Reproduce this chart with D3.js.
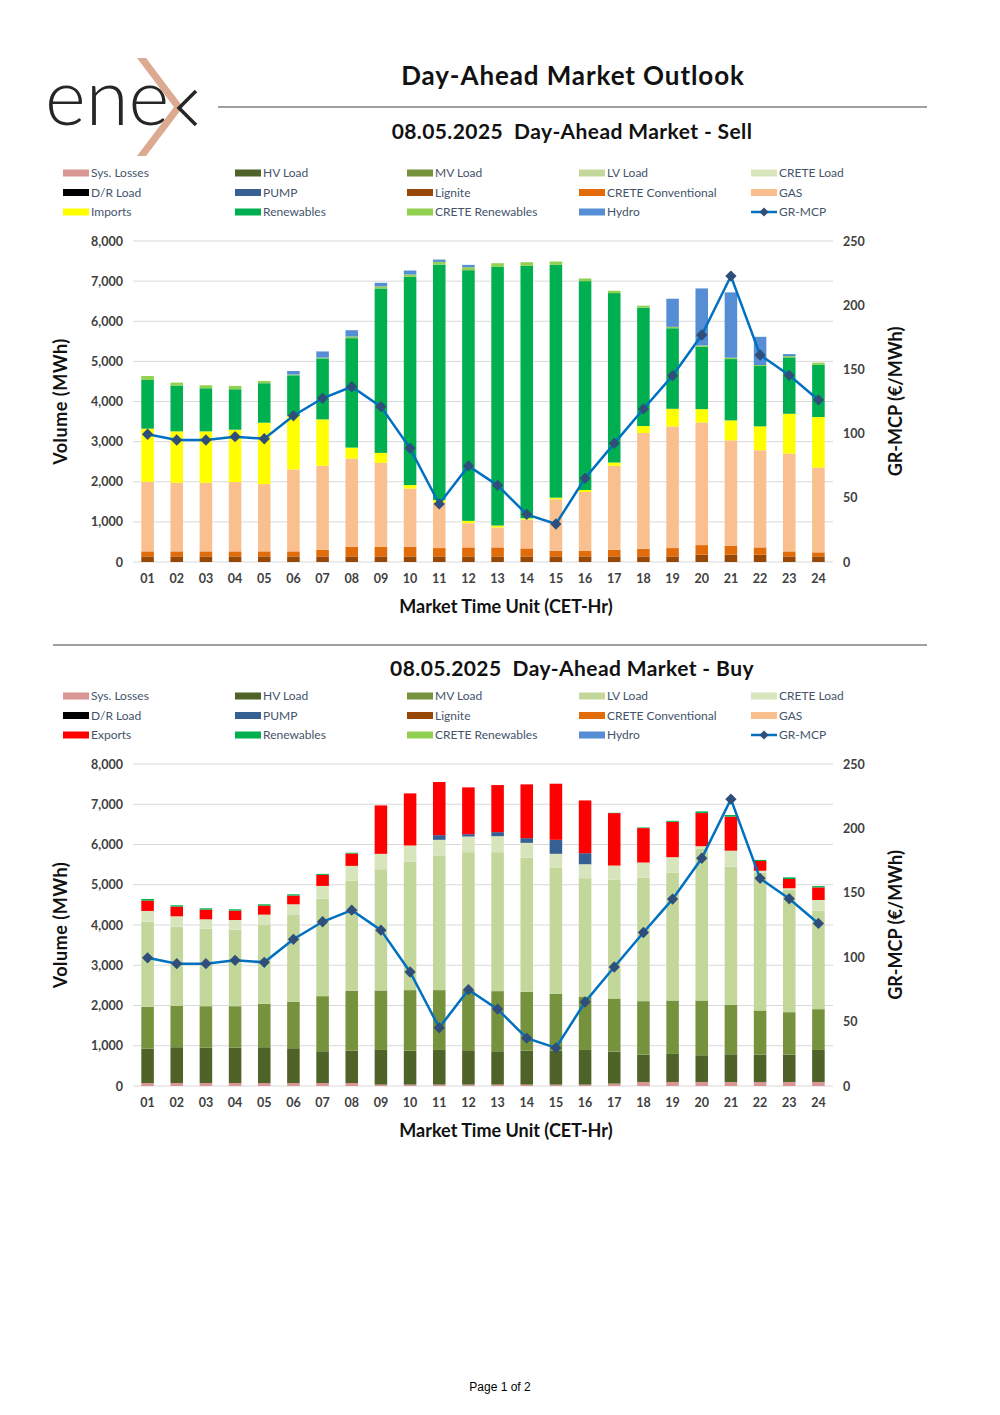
<!DOCTYPE html>
<html>
<head>
<meta charset="utf-8">
<script src="https://cdn.jsdelivr.net/npm/d3@7"></script>
<style>
  body { margin: 0; background: #fff; }
  text { font-family: "Lato", "DejaVu Sans", sans-serif; }
</style>
</head>
<body>
<div id="page"></div>
<script>
// market time units
var hours = ["01","02","03","04","05","06","07","08","09","10","11","12",
             "13","14","15","16","17","18","19","20","21","22","23","24"];

// GR-MCP price (EUR/MWh)
var price = [99.5, 95, 95, 97.6, 96, 113.9, 127.5, 136.5, 121, 88.5, 45.2, 74.8,
             59.7, 37.1, 29.6, 65.2, 92.4, 119.2, 145.1, 176.8, 222.7, 161.2, 145.4, 126.2];

// Sell side (MWh)
var sellLignite    = [140,140,140,140,140,140,140,140,140,140,140,140,140,140,140,140,140,140,140,182,182,182,140,140];
var sellCreteConv  = [125,125,125,125,125,125,165,240,240,240,207,224,224,199,141,141,165,190,207,239,223,182,124,100];
var sellGas        = [1735,1710,1710,1727,1677,2041,2092,2199,2091,1450,1132,603,496,719,1281,1463,2092,2885,3033,3058,2628,2421,2438,2115];
var sellImports    = [1322,1281,1281,1305,1529,1330,1157,272,248,87,66,58,49,33,41,49,82,173,438,331,496,595,992,1257];
var sellRenewables = [1215,1141,1074,1009,984,1017,1520,2728,4099,5190,5868,6248,6446,6289,5802,5207,4223,2951,2008,1554,1529,1504,1405,1305];
var sellCreteRen   = [99,74,75,82,57,20,20,40,50,58,66,74,91,91,83,66,58,49,34,33,33,25,33,50];
var sellHydro      = [0,0,0,0,0,87,154,158,91,99,58,58,0,0,0,0,0,0,702,1421,1628,703,50,0];

// Buy side (MWh)
var buySysLosses   = [75,75,75,75,75,75,75,75,35,35,35,35,35,35,35,35,60,100,100,100,100,100,100,100];
var buyHV          = [854,888,879,879,888,863,788,805,861,845,861,853,828,845,845,861,795,680,697,663,688,680,680,796];
var buyMV          = [1038,1029,1029,1029,1078,1153,1369,1485,1477,1502,1486,1494,1494,1460,1410,1328,1319,1328,1327,1361,1229,1096,1054,1013];
var buyLV          = [2116,1967,1926,1901,1959,2158,2424,2739,3013,3195,3336,3427,3452,3336,3129,2938,2955,3070,3179,3776,3431,3424,3046,2448];
var buyCreteLoad   = [266,257,232,240,257,266,315,365,382,398,398,390,398,365,349,348,348,374,382,58,398,48,33,265];
var buyPump        = [0,0,0,0,0,0,0,0,0,0,116,58,100,117,348,274,0,0,0,0,0,0,0,0];
var buyExports     = [257,240,241,233,224,215,274,307,1203,1295,1320,1162,1170,1336,1394,1311,1303,855,879,823,846,242,230,312];
var buyRenewables  = [41,34,33,33,34,33,25,20,0,0,0,0,0,0,0,0,8,16,25,42,41,27,41,33];

var volTicks = [0,1000,2000,3000,4000,5000,6000,7000,8000];
var priceTicks = [0,50,100,150,200,250];

var legendNames = ["Sys. Losses","HV Load","MV Load","LV Load","CRETE Load",
                   "D/R Load","PUMP","Lignite","CRETE Conventional","GAS",
                   "Imports","Renewables","CRETE Renewables","Hydro","GR-MCP"];
var legendColors = ["#da9694","#4f6228","#76923c","#c4d79b","#d8e4bc",
                    "#000000","#366092","#974706","#e26b0a","#fabf8f",
                    "#ffff00","#00b050","#92d050","#558ed5","#0070c0"];

var svg = d3.select("#page").append("svg")
    .attr("width", 1000)
    .attr("height", 1415);

// ---- header / logo ----
svg.append("text")
    .attr("x", 45).attr("y", 125)
    .style("font-family", "Lato, sans-serif")
    .style("font-weight", 300)
    .style("font-size", "78px")
    .attr("fill", "#262626")
    .text("ene");
svg.append("path")
    .attr("d", "M137,58 L146,58 L183,107 L146,156 L137,156 L174,107 Z")
    .attr("fill", "#dcaa90");
svg.append("path")
    .attr("d", "M196,91 L179,108 L196,125")
    .attr("fill", "none")
    .attr("stroke", "#262626")
    .attr("stroke-width", 3.5);

svg.append("text")
    .attr("x", 573).attr("y", 85)
    .attr("text-anchor", "middle")
    .style("font-weight", "bold").style("font-size", "26px")
    .style("letter-spacing", "0.9px")
    .attr("fill", "#111")
    .text("Day-Ahead Market Outlook");
svg.append("line")
    .attr("x1", 218).attr("x2", 927).attr("y1", 107).attr("y2", 107)
    .attr("stroke", "#404040").attr("stroke-width", 1);
svg.append("line")
    .attr("x1", 53).attr("x2", 927).attr("y1", 645).attr("y2", 645)
    .attr("stroke", "#404040").attr("stroke-width", 1);

svg.append("text")
    .attr("x", 500).attr("y", 1391)
    .attr("text-anchor", "middle")
    .style("font-family", "'Liberation Sans', Arial, sans-serif")
    .style("font-size", "12px")
    .attr("fill", "#000")
    .text("Page 1 of 2");

// ---- one chart panel ----
function drawPanel(titleY, legendTop, plotTop, plotBottom, title, series, tradeColor, tradeName) {
    var g = svg.append("g");

    g.append("text")
        .attr("x", 572).attr("y", titleY)
        .attr("text-anchor", "middle")
        .style("font-weight", "bold").style("font-size", "21px")
        .style("letter-spacing", "0.4px")
        .style("white-space", "pre")
        .attr("fill", "#111")
        .text(title);

    // legend
    legendNames.forEach(function (name, i) {
        var col = i % 5, row = Math.floor(i / 5);
        var lx = 63 + col * 172, ly = legendTop + row * 19.5;
        var label = (i == 10) ? tradeName : name;
        var color = (i == 10) ? tradeColor : legendColors[i];
        if (i == 14) {
            g.append("line").attr("x1", lx).attr("x2", lx + 26)
                .attr("y1", ly).attr("y2", ly)
                .attr("stroke", color).attr("stroke-width", 2.5);
            g.append("path")
                .attr("d", d3.symbol().type(d3.symbolSquare).size(42)())
                .attr("transform", "translate(" + (lx + 13) + "," + ly + ") rotate(45)")
                .attr("fill", "#2f4f7a");
        } else {
            g.append("rect").attr("x", lx).attr("y", ly - 3.5)
                .attr("width", 26).attr("height", 7)
                .attr("fill", color);
        }
        g.append("text")
            .attr("x", lx + 28).attr("y", ly + 4)
            .style("font-size", "12px")
            .attr("fill", "#44546a")
            .text(label);
    });

    var x = d3.scaleBand()
        .domain(hours)
        .range([133, 833])
        .paddingInner(0.57)
        .paddingOuter(0.285);

    var y = d3.scaleLinear().domain([0, 8000]).range([plotBottom, plotTop]);
    var yR = d3.scaleLinear().domain([0, 250]).range([plotBottom, plotTop]);

    // gridlines
    g.selectAll(".grid")
        .data(volTicks).enter()
        .append("line")
        .attr("x1", 133).attr("x2", 833)
        .attr("y1", function (d) { return y(d); })
        .attr("y2", function (d) { return y(d); })
        .attr("stroke", "#d9d9d9").attr("stroke-width", 1);

    // left axis
    var axL = g.append("g")
        .attr("transform", "translate(126,0)")
        .call(d3.axisLeft(y).tickValues(volTicks).tickSize(0).tickFormat(d3.format(",")));
    axL.select(".domain").remove();
    axL.selectAll("text").style("font-size", "12.5px").style("font-family", "Lato, sans-serif")
        .style("font-weight", "bold").attr("fill", "#404040");

    // right axis
    var axR = g.append("g")
        .attr("transform", "translate(840,0)")
        .call(d3.axisRight(yR).tickValues(priceTicks).tickSize(0));
    axR.select(".domain").remove();
    axR.selectAll("text").style("font-size", "12.5px").style("font-family", "Lato, sans-serif")
        .style("font-weight", "bold").attr("fill", "#404040");

    // bottom axis
    var axB = g.append("g")
        .attr("transform", "translate(0," + (plotBottom + 9) + ")")
        .call(d3.axisBottom(x).tickSize(0));
    axB.select(".domain").remove();
    axB.selectAll("text").style("font-size", "12.5px").style("font-family", "Lato, sans-serif")
        .style("font-weight", "bold").attr("fill", "#404040");

    // axis titles
    g.append("text")
        .attr("x", 506).attr("y", plotBottom + 51)
        .attr("text-anchor", "middle")
        .style("font-weight", "bold").style("font-size", "18px")
        .attr("fill", "#111")
        .text("Market Time Unit (CET-Hr)");
    g.append("text")
        .attr("transform", "translate(67," + ((plotTop + plotBottom) / 2) + ") rotate(-90)")
        .attr("text-anchor", "middle")
        .style("font-weight", "bold").style("font-size", "18px")
        .style("letter-spacing", "0.5px")
        .attr("fill", "#111")
        .text("Volume (MWh)");
    g.append("text")
        .attr("transform", "translate(902," + ((plotTop + plotBottom) / 2) + ") rotate(-90)")
        .attr("text-anchor", "middle")
        .style("font-weight", "bold").style("font-size", "18px")
        .attr("fill", "#111")
        .text("GR-MCP (\u20ac/MWh)");

    // stacked bars
    var rows = hours.map(function (h, i) {
        var r = { hour: h };
        series.forEach(function (s) { r[s.key] = s.values[i]; });
        return r;
    });
    var stacked = d3.stack().keys(series.map(function (s) { return s.key; }))(rows);

    g.selectAll(".layer")
        .data(stacked).enter()
        .append("g")
        .attr("fill", function (d, i) { return series[i].color; })
        .selectAll("rect")
        .data(function (d) { return d; }).enter()
        .append("rect")
        .attr("x", function (d) { return x(d.data.hour); })
        .attr("width", x.bandwidth())
        .attr("y", function (d) { return y(d[1]); })
        .attr("height", function (d) { return y(d[0]) - y(d[1]); });

    // price line
    g.append("path")
        .datum(price)
        .attr("fill", "none")
        .attr("stroke", "#0070c0")
        .attr("stroke-width", 2.5)
        .attr("d", d3.line()
            .x(function (d, i) { return x(hours[i]) + x.bandwidth() / 2; })
            .y(function (d) { return yR(d); }));

    g.selectAll(".mark")
        .data(price).enter()
        .append("path")
        .attr("d", d3.symbol().type(d3.symbolSquare).size(64)())
        .attr("transform", function (d, i) {
            return "translate(" + (x(hours[i]) + x.bandwidth() / 2) + "," + yR(d) + ") rotate(45)";
        })
        .attr("fill", "#2f4f7a");
}

drawPanel(139, 173, 241, 562, "08.05.2025  Day-Ahead Market - Sell", [
    { key: "lignite", values: sellLignite, color: "#974706" },
    { key: "creteConv", values: sellCreteConv, color: "#e26b0a" },
    { key: "gas", values: sellGas, color: "#fabf8f" },
    { key: "imports", values: sellImports, color: "#ffff00" },
    { key: "ren", values: sellRenewables, color: "#00b050" },
    { key: "creteRen", values: sellCreteRen, color: "#92d050" },
    { key: "hydro", values: sellHydro, color: "#558ed5" }
], "#ffff00", "Imports");

drawPanel(676, 696, 764, 1086, "08.05.2025  Day-Ahead Market - Buy", [
    { key: "sys", values: buySysLosses, color: "#da9694" },
    { key: "hv", values: buyHV, color: "#4f6228" },
    { key: "mv", values: buyMV, color: "#76923c" },
    { key: "lv", values: buyLV, color: "#c4d79b" },
    { key: "crete", values: buyCreteLoad, color: "#d8e4bc" },
    { key: "pump", values: buyPump, color: "#366092" },
    { key: "exports", values: buyExports, color: "#ff0000" },
    { key: "ren", values: buyRenewables, color: "#00b050" }
], "#ff0000", "Exports");
</script>
</body>
</html>
